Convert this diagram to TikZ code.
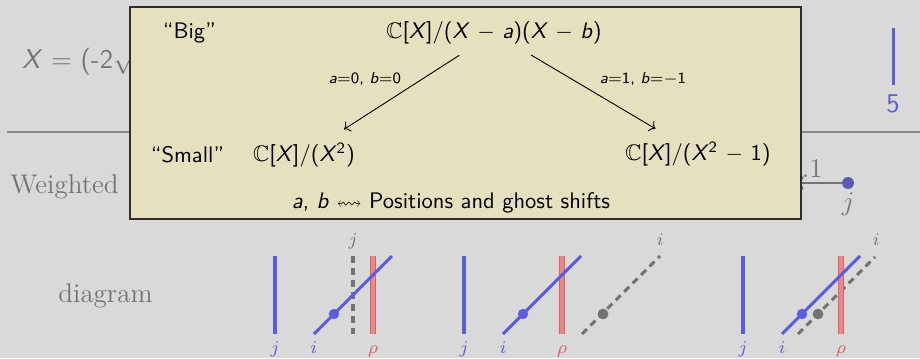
\documentclass[tikz,border=0pt]{standalone}
\usepackage{amsmath,amssymb}
\usepackage{xcolor}
\usepackage{tikz}
\usetikzlibrary{arrows.meta}
\definecolor{Slide}{HTML}{D9D9D9}
\definecolor{Fade}{HTML}{737373}
\definecolor{StrC}{HTML}{5C5CDE}
\definecolor{DotC}{HTML}{5A5AB2}
\definecolor{RhoC}{HTML}{E58A8A}
\definecolor{RhoE}{HTML}{D66262}
\definecolor{Khaki}{HTML}{E5E0BD}
\definecolor{Frame}{HTML}{2E2E2E}
\newcommand{\vX}{\textit{X}}

\begin{document}
\begin{tikzpicture}[x=0.444pt,y=-0.444pt,
  bg/.style={text=Fade,inner sep=0pt,font=\large},
  strand/.style={StrC,line width=1.35pt},
  ghost/.style={Fade,line width=1.35pt,dash pattern=on 3.1pt off 2.2pt},
  rho/.style={draw=RhoE,line width=.5pt,double=RhoC,double distance=1.9pt},
  lb/.style={inner sep=0pt,font=\footnotesize},
  panel/.style={draw=Frame,line width=.7pt,fill=Khaki,
             minimum width=297.9pt,minimum height=94.1pt},
  tx/.style={font=\sffamily,inner sep=2pt},
  ed/.style={->,line width=.4pt,shorten <=5pt,shorten >=7pt},
  el/.style={font=\sffamily\scriptsize,inner sep=1pt}]

\fill[Slide] (0,0) rectangle (920,358);
\useasboundingbox (0,0) rectangle (920,358);

% the slide behind the box
\node[bg,font=\large\sffamily,anchor=base west] (xeq) at (22,68) {\textit{X} $=$ (-2$\surd$};
\draw[Fade!85,line width=.7pt] (7,132) -- (920,132);
\node[bg,anchor=base west] (wtd) at (10,193) {Weighted};
\node[bg,anchor=base west] (diag) at (58,302) {diagram};
\node[bg,anchor=base east] (tick) at (823,177) {0.1};
\node[circle,fill=DotC,inner sep=0pt,minimum size=5.3pt] (dotj) at (848,183) {};
\node[bg,anchor=base] (jlab) at (848,210) {$j$};
\coordinate (tip) at (797,183);
\draw[Fade,line width=.6pt,<-] (tip) -- (dotj);
\draw[strand] (893,28) -- (893,85);
\node[font=\large\sffamily,text=StrC,inner sep=0pt] (five) at (893,104) {5};

% ghost strands
\draw[ghost] (353,256) -- (353,334);
\node[lb,text=Fade,anchor=base] (gj1) at (353,245) {$j$};
\draw[ghost] (582,334) -- (660,256);
\fill[Fade] (603,314) circle (2.4pt);
\node[lb,text=Fade,anchor=base] (gi2) at (660,245) {$i$};
\draw[ghost] (798,334) -- (875,257);
\fill[Fade] (818,314) circle (2.4pt);
\node[lb,text=Fade,anchor=base] (gi3) at (876,245) {$i$};

% strands j, i and rho
\foreach \x in {275,464,743}{
  \draw[rho] (\x+98,256) -- (\x+98,334);
  \draw[strand] (\x,256) -- (\x,334);
  \draw[strand] (\x+39,334) -- (\x+117,256);
  \fill[StrC] (\x+59,314) circle (2.3pt);
  \node[lb,text=StrC,anchor=base] (j\x) at (\x,353) {$j$};
  \node[lb,text=StrC,anchor=base] (i\x) at (\x+39,353) {$i$};
  \node[lb,text=RhoE,anchor=base] (r\x) at (\x+98,353) {$\rho$};
}

% the box
\node[panel] (panel) at (465.5,113) {};
\node[tx,anchor=west] (bigl) at (158,33) {``Big''};
\node[tx] (big) at (494,33) {$\mathbb{C}$[\vX]/(\vX\ $-$\ \textit{a})(\vX\ $-$\ \textit{b})};
\node[tx,anchor=west] (smalll) at (146,155) {``Small''};
\node[tx] (sml) at (304,155) {$\mathbb{C}$[\vX]/(\vX\textsuperscript{2})};
\node[tx] (smr) at (698,154) {$\mathbb{C}$[\vX]/(\vX\textsuperscript{2}\ $-$\ 1)};
\draw[ed] (big) -- (sml);
\draw[ed] (big) -- (smr);
\node[el] (w0) at (365,79) {\textit{a}${=}$0, \textit{b}${=}$0};
\node[el] (w1) at (643,79) {\textit{a}${=}$1, \textit{b}${=}{-}$1};
\node[tx] (note) at (451,203) {\textit{a}, \textit{b} {\footnotesize$\leftrightsquigarrow$} Positions and ghost shifts};

\end{tikzpicture}
\end{document}
